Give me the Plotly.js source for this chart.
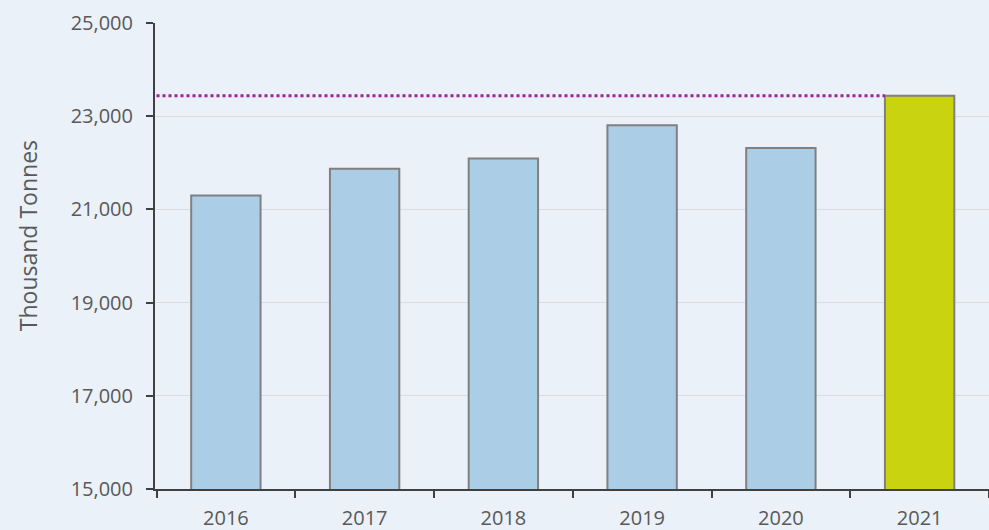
<!DOCTYPE html>
<html>
<head>
<meta charset="utf-8">
<script src="https://cdn.plot.ly/plotly-3.0.1.min.js"></script>
<style>html,body{margin:0;padding:0;background:#eaf1f8;}</style>
</head>
<body>
<div id="chart" style="width:989px;height:530px;"></div>
<script>
const years = ['2016', '2017', '2018', '2019', '2020', '2021'];
const tonnes = [21300, 21870, 22090, 22805, 22320, 23440];
const barColors = ['#abcde6', '#abcde6', '#abcde6', '#abcde6', '#abcde6', '#c9d30f'];
const yTitle = 'Thousand Tonnes';

const latest = tonnes[tonnes.length - 1];

const trace = {
  type: 'bar',
  x: years,
  y: tonnes,
  marker: { color: barColors, line: { color: '#808080', width: 2 } },
  hoverinfo: 'x+y'
};

const layout = {
  width: 989, height: 530,
  margin: { l: 155, r: 0, t: 23, b: 41 },
  paper_bgcolor: '#eaf1f8',
  plot_bgcolor: '#eaf1f8',
  showlegend: false,
  bargap: 0.5,
  font: { family: 'Open Sans, Noto Sans, sans-serif', color: '#595959', size: 20 },
  xaxis: {
    type: 'category',
    showline: true, linecolor: '#404040', linewidth: 2,
    ticks: 'outside', tickson: 'boundaries', ticklen: 7, tickwidth: 2, tickcolor: '#404040',
    ticklabelstandoff: 10,
    showgrid: false, zeroline: false,
    tickfont: { size: 20, color: '#595959' }
  },
  yaxis: {
    range: [15000, 25000],
    dtick: 2000, tick0: 15000,
    tickformat: ',',
    showline: true, linecolor: '#404040', linewidth: 2,
    ticks: 'outside', ticklen: 7, tickwidth: 2, tickcolor: '#404040',
    ticklabelstandoff: 9,
    showgrid: true, gridcolor: '#d9dde2', gridwidth: 1,
    zeroline: false,
    tickfont: { size: 20, color: '#595959' }
  },
  annotations: [{
    text: yTitle, xref: 'paper', yref: 'paper',
    x: -0.152, y: 0.543, xanchor: 'center', yanchor: 'middle',
    textangle: -90, showarrow: false,
    font: { size: 23, color: '#595959' }
  }],
  shapes: [{
    type: 'line', xref: 'x', yref: 'y',
    x0: -0.5, x1: years.length - 1 - 0.25,
    y0: latest, y1: latest,
    line: { color: '#a0209a', width: 3, dash: 'dot' }
  }]
};

Plotly.newPlot('chart', [trace], layout, { displayModeBar: false, staticPlot: true });
</script>
</body>
</html>
